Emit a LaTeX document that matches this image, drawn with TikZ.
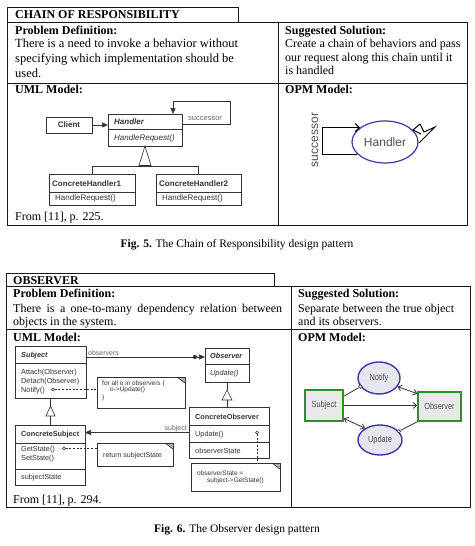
\documentclass[tikz,border=0pt]{standalone}
\usepackage{fontspec}
\setmainfont{Liberation Serif}
\setsansfont{Liberation Sans}
\newfontfamily\narrowsans[FakeStretch=0.82]{Liberation Sans}
\usetikzlibrary{arrows.meta,shapes.geometric,calc}
\definecolor{opmblue}{HTML}{3A3AAA}
\definecolor{opmgreen}{HTML}{2F8F2F}
\definecolor{rectfill}{HTML}{E9E9E9}
\definecolor{ellfill}{HTML}{E6E6EE}
\definecolor{labgray}{HTML}{505050}
\definecolor{umlink}{HTML}{333333}
\newcommand\drawnote[1]{%
  \fill[gray!60] ($(#1.north east)+(-8,0)$) -- (#1.north east) -- ($(#1.north east)+(0,6)$) -- cycle;
  \draw[clsline] (#1.north west) rectangle (#1.south east);
  \draw[clsline] ($(#1.north east)+(-8,0)$) -- ($(#1.north east)+(0,6)$);
}
\begin{document}
\begin{tikzpicture}[x=1pt,y=-1pt,
 frame/.style={draw=black!90, line width=0.9pt, inner sep=0pt, outer sep=0pt, anchor=north west},
 tabline/.style={draw=black!90, line width=0.9pt},
 cls/.style={draw=umlink, line width=0.65pt, inner sep=0pt, outer sep=0pt, anchor=north west},
 clsline/.style={draw=umlink, line width=0.65pt},
 note/.style={inner sep=0pt, outer sep=0pt, anchor=north west},
 hd/.style={font=\fontsize{12}{14}\selectfont\bfseries, inner sep=0pt, anchor=base west},
 body/.style={font=\fontsize{12.5}{14}\selectfont, inner sep=0pt, anchor=base west},
 rbody/.style={font=\fontsize{12}{14}\selectfont, inner sep=0pt, anchor=base west},
 capt/.style={font=\fontsize{11.5}{13}\selectfont, inner sep=0pt, anchor=base},
 ua/.style={font=\sffamily\fontsize{8}{9}\selectfont, text=umlink, inner sep=0pt, anchor=base west},
 ub/.style={font=\sffamily\fontsize{7.3}{8}\selectfont, text=umlink, inner sep=0pt, anchor=base west},
 nt/.style={font=\sffamily\fontsize{6.5}{7}\selectfont, text=umlink, inner sep=0pt, anchor=base west},
 lab/.style={font=\sffamily\fontsize{7}{8}\selectfont, text=black!60, inner sep=0pt, anchor=base west},
 inh/.style={draw=umlink, fill=white, line width=0.65pt},
 fillarrow/.style={-{Triangle[length=6pt,width=5pt]}},
 dashline/.style={draw=umlink, line width=0.6pt, dash pattern=on 2pt off 1.6pt},
 pin/.style={circle, draw=umlink, fill=white, line width=0.5pt, inner sep=0pt, minimum size=3pt},
 opin/.style={circle, draw=black!80, fill=white, line width=0.6pt, inner sep=0pt, minimum size=3.6pt},
 opmproc/.style={ellipse, draw=opmblue, fill=ellfill, line width=1.4pt, inner sep=0pt, font=\narrowsans\fontsize{9}{10}\selectfont, text=labgray},
 opmobj/.style={rectangle, draw=opmgreen, fill=rectfill, line width=1.6pt, inner sep=0pt, font=\narrowsans\fontsize{9}{10}\selectfont, text=labgray},
 opmlink/.style={draw=black!80, line width=0.8pt},
 barb/.style={-{Straight Barb[length=3.5pt,width=6pt]}},
 barbs/.style={{Straight Barb[length=3.5pt,width=6pt]}-{Straight Barb[length=3.5pt,width=6pt]}},
]
\fill[white] (0,0) rectangle (474,546);
\useasboundingbox (0,0) rectangle (474,546);

%% ================= FIGURE 5 =================
\node[frame, minimum width=231pt, minimum height=15pt] (title1) at (7,7) {};
\node[hd] (title1t) at (15,19) {CHAIN OF RESPONSIBILITY};
\node[frame, minimum width=460pt, minimum height=203pt] (tab1) at (7,22) {};
\draw[tabline] (278,22) -- (278,225);
\draw[tabline] (7,83) -- (467,83);

\node[hd] (pd1) at (15,34) {Problem Definition:};
\node[body] (pd1a) at (15,47) {There is a need to invoke a behavior without};
\node[body] (pd1b) at (15,62) {specifying which implementation should be};
\node[body] (pd1c) at (15,77) {used.};
\node[hd] (ss1) at (285,34) {Suggested Solution:};
\node[rbody] (ss1a) at (285,47.5) {Create a chain of behaviors and pass};
\node[rbody] (ss1b) at (285,61) {our request along this chain until it};
\node[rbody] (ss1c) at (285,74.5) {is handled};

\node[hd] (uml1) at (15,93) {UML Model:};
\node[hd] (opm1) at (285,93) {OPM Model:};

% UML classes
\node[cls, minimum width=46pt, minimum height=16pt, font=\sffamily\bfseries\fontsize{8}{9}\selectfont, text=umlink] (client) at (46,117) {Client};
\node[cls, minimum width=74pt, minimum height=32pt] (handler) at (108,114) {};
\draw[clsline] (108,129) -- (182,129);
\node[ua, font=\sffamily\bfseries\itshape\fontsize{8}{9}\selectfont] (handlert) at (114,124.4) {Handler};
\node[ua, font=\sffamily\itshape\fontsize{8}{9}\selectfont] (handlerm) at (114,140.5) {HandleRequest()};
\draw[clsline, fillarrow] (client.east) -- (client.east -| handler.west);
\draw[clsline, fillarrow] ($(handler.north east)+(0,10)$) -- ++(48,0) |- ($(handler.north east)+(-9,-13)$) -- ($(handler.north east)+(-9,0)$);
\node[lab, font=\sffamily\fontsize{7.5}{8}\selectfont] (succ) at (188,120.5) {successor};

\node[cls, minimum width=86pt, minimum height=31pt] (ch1) at (49,174) {};
\draw[clsline] (49,192) -- (135,192);
\node[ua, font=\sffamily\bfseries\fontsize{8}{9}\selectfont] (ch1t) at (52,186) {ConcreteHandler1};
\node[ua] (ch1m) at (55,200.5) {HandleRequest()};
\node[cls, minimum width=85pt, minimum height=31pt] (ch2) at (156,174) {};
\draw[clsline] (156,192) -- (241,192);
\node[ua, font=\sffamily\bfseries\fontsize{8}{9}\selectfont] (ch2t) at (159,186) {ConcreteHandler2};
\node[ua] (ch2m) at (162,200.5) {HandleRequest()};
\draw[clsline] (ch1.north) -- ++(0,-8) -| (ch2.north);
\draw[inh] (handler.south) -- ++(-6,19.5) -- ++(12,0) -- cycle;

\node[body, font=\fontsize{12}{14}\selectfont] (from1) at (15,220) {From [11], p. 225.};

% OPM model 1
\node[ellipse, draw=opmblue, line width=1.2pt, minimum width=66pt, minimum height=42pt, inner sep=0pt, font=\sffamily\fontsize{12}{13}\selectfont, text=labgray] (oh) at (385,142) {Handler};
\draw[black, line width=1.1pt, -{Straight Barb[length=4pt,width=8pt]}] (oh.204) -- ++(-35,0) |- (oh.150);
\node[font=\sffamily\fontsize{12}{13}\selectfont, text=labgray, rotate=90, inner sep=0pt] (succ2) at (315,140) {successor};
\draw[black, line width=1pt, line join=miter] (420,124) -- (413,130) -- (421,134);
\draw[black, line width=1pt, line join=miter] (420,124) -- (424,132) -- (435,127) -- (419,143);

\node[capt] (cap1) at (237,247) {\textbf{Fig. 5.} The Chain of Responsibility design pattern};

%% ================= FIGURE 6 =================
\node[frame, minimum width=268pt, minimum height=13pt] (title2) at (6,273) {};
\node[hd] (title2t) at (13,284) {OBSERVER};
\node[frame, minimum width=464pt, minimum height=221pt] (tab2) at (6,286) {};
\draw[tabline] (291,286) -- (291,507);
\draw[tabline] (6,329) -- (470,329);

\node[hd] (pd2) at (13,297) {Problem Definition:};
\node[rbody] (pd2a) at (13,312) {\makebox[269pt][s]{There is a one-to-many dependency relation between}};
\node[rbody] (pd2b) at (13,325) {objects in the system.};
\node[hd] (ss2) at (298,297) {Suggested Solution:};
\node[rbody] (ss2a) at (298,312) {Separate between the true object};
\node[rbody] (ss2b) at (298,325) {and its observers.};

\node[hd] (uml2) at (13,341) {UML Model:};
\node[hd] (opm2) at (298,341) {OPM Model:};

% Subject
\node[cls, minimum width=71pt, minimum height=52pt] (subj) at (15,346) {};
\draw[clsline] (15,363) -- (86,363);
\node[ub, font=\sffamily\bfseries\itshape\fontsize{7.3}{8}\selectfont] (subjt) at (21,357) {Subject};
\node[ub] (subja) at (21,374) {Attach(Observer)};
\node[ub] (subjd) at (21,383) {Detach(Observer)};
\node[ub] (subjn) at (21,392) {Notify()};
\node[pin] (np1) at (53,389.5) {};

% Observer
\node[cls, minimum width=44pt, minimum height=34pt] (obs) at (205,348) {};
\draw[clsline] (205,364) -- (249,364);
\node[ub, font=\sffamily\bfseries\itshape\fontsize{7.3}{8}\selectfont] (obst) at (210,358.5) {Observer};
\node[ub, font=\sffamily\itshape\fontsize{7.3}{8}\selectfont] (obsm) at (210,375.5) {Update()};

\draw[clsline, fillarrow] ($(subj.north east)+(0,11)$) -- ($(obs.north west)+(0,9)$) node[pos=0.915, circle, fill=umlink, inner sep=0pt, minimum size=4.2pt] {};
\node[lab] (obslab) at (88,355) {observers};

% note 1
\node[note, minimum width=88pt, minimum height=31pt] (n1) at (97,377) {};
\drawnote{n1}
\node[nt] (n1a) at (102,385.3) {for all o in observers \{};
\node[nt] (n1b) at (110,391.6) {o->Update()};
\node[nt] (n1c) at (102,399.3) {\}};
\draw[dashline] (np1) -- (np1 -| n1.west);

% ConcreteSubject
\node[cls, minimum width=70pt, minimum height=60pt] (csub) at (15,425) {};
\draw[clsline] (15,443) -- (85,443);
\draw[clsline] (15,469) -- (85,469);
\node[ub, font=\sffamily\bfseries\fontsize{7.3}{8}\selectfont] (csubt) at (21,436.5) {ConcreteSubject};
\node[ub] (csubg) at (21,451.5) {GetState()};
\node[ub] (csubs) at (21,460.5) {SetState()};
\node[ub] (csubv) at (21,479.5) {subjectState};
\node[pin] (np2) at (64,448.5) {};

\node[note, minimum width=76pt, minimum height=23pt] (n2) at (97,443) {};
\drawnote{n2}
\node[nt, font=\sffamily\fontsize{7}{8}\selectfont] (n2a) at (103,457.3) {return subjectState};
\draw[dashline] (np2) -- (np2 -| n2.west);

% inheritance Subject
\draw[clsline] (subj.south) -- ++(0,8) coordinate (ta1);
\draw[inh] (ta1) -- ++(-4.5,10) -- ++(9,0) -- cycle;
\draw[clsline] ($(ta1)+(0,10)$) -- (ta1 |- csub.north);

% ConcreteObserver
\node[cls, minimum width=80pt, minimum height=51pt] (cobs) at (189,407) {};
\draw[clsline] (189,425) -- (269,425);
\draw[clsline] (189,442) -- (269,442);
\node[ub, font=\sffamily\bfseries\fontsize{7.3}{8}\selectfont] (cobst) at (195,419) {ConcreteObserver};
\node[ub] (cobsu) at (195,436.5) {Update()};
\node[ub] (cobsv) at (195,453) {observerState};
\node[pin] (np3) at (257,432.5) {};

\node[note, minimum width=89pt, minimum height=28pt] (n3) at (191,463) {};
\drawnote{n3}
\node[nt] (n3a) at (197,475.3) {observerState =};
\node[nt] (n3b) at (207,482.5) {subject->GetState()};
\draw[dashline] (np3) -- (np3 |- n3.north);

% inheritance Observer
\draw[clsline] (obs.south) -- ++(0,8) coordinate (ta2);
\draw[inh] (ta2) -- ++(-5,10) -- ++(10,0) -- cycle;
\draw[clsline] ($(ta2)+(0,10)$) -- (ta2 |- cobs.north);

% subject association
\draw[clsline, fillarrow] (cobs.west) -- (cobs.west -| csub.east);
\node[lab, anchor=base east] (sublab) at (187,430) {subject};

\node[body, font=\fontsize{12}{14}\selectfont] (from2) at (13,503.5) {From [11], p. 294.};

% OPM model 2
\node[opmobj, minimum width=38pt, minimum height=31pt] (os) at (324,405.5) {Subject};
\node[opmobj, minimum width=43pt, minimum height=29pt] (oo) at (439.5,406.5) {Observer};
\node[opmproc, minimum width=42pt, minimum height=32pt] (on) at (379,378) {Notify};
\node[opmproc, minimum width=44pt, minimum height=30pt] (ou) at (380,440) {Update};

\draw[opmlink, barb] (os.east) -- (os.east -| oo.west);
\node[opin] (opn) at (on.205) {};
\draw[opmlink] (os.25) -- (opn);
\draw[opmlink, barbs] (on.-25) -- (oo.150);
\draw[opmlink, barbs] (os.-33) -- (ou.142);
\node[opin] (opu) at (ou.25) {};
\draw[opmlink] (opu) -- (oo.south west);

\node[capt] (cap2) at (237,532) {\textbf{Fig. 6.} The Observer design pattern};
\end{tikzpicture}
\end{document}
